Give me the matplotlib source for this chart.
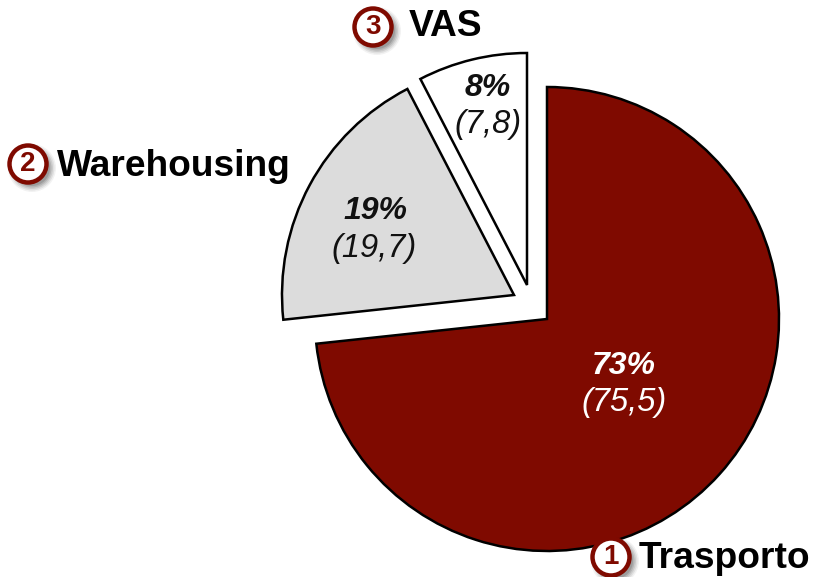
import matplotlib
matplotlib.use('Agg')
import matplotlib.pyplot as plt
from matplotlib.patches import Circle

plt.rcParams['font.family'] = ['Liberation Sans', 'DejaVu Sans']

# shares
categories = ['Trasporto', 'Warehousing', 'VAS']
shares = [73.3, 19.1, 7.6]
pct_labels = ['73%', '19%', '8%']
value_labels = ['(75,5)', '(19,7)', '(7,8)']
numbers = ['1', '2', '3']
colors = ['#7F0A00', '#DCDCDC', '#FFFFFF']
text_colors = ['white', '#111111', '#111111']

W, H = 813, 577
RED = '#7F0A00'


def py(y):
    # picture y (from the top) to axes y
    return H - y


fig = plt.figure(figsize=(W / 100, H / 100), dpi=100)
ax = fig.add_axes([0, 0, 1, 1])

wedges, _ = ax.pie(shares, colors=colors, startangle=90, counterclock=False,
                   radius=232, center=(547, py(319)),
                   wedgeprops={'edgecolor': 'black', 'linewidth': 1.8, 'joinstyle': 'miter'})
ax.set_xlim(0, W)
ax.set_ylim(0, H)
ax.set_aspect('equal')
ax.axis('off')

# each slice is pulled out on its own
centers = [(547, 319), (514, 295), (527, 285)]
for w, c in zip(wedges, centers):
    w.set_center((c[0], py(c[1])))

pct_pos = [(624, 366), (375, 211), (488, 88)]
val_pos = [(624, 403), (374, 248), (488, 124)]
for i in range(3):
    ax.text(pct_pos[i][0], py(pct_pos[i][1]), pct_labels[i], color=text_colors[i],
            fontsize=23, fontweight='bold', fontstyle='italic', ha='center', va='center')
    ax.text(val_pos[i][0], py(val_pos[i][1]), value_labels[i], color=text_colors[i],
            fontsize=23.5, fontstyle='italic', ha='center', va='center')

badge_pos = [(611, 557), (28, 164), (373, 27)]
label_pos = [(639, 558), (57, 167), (409, 27)]
for i in range(3):
    x, y = badge_pos[i]
    # soft shadow
    for r, a in [(24, 0.05), (22.5, 0.07), (21, 0.09), (19.5, 0.11), (18, 0.13)]:
        ax.add_patch(Circle((x + 4, py(y + 4)), r, facecolor='black', edgecolor='none', alpha=a, zorder=4))
    ax.add_patch(Circle((x, py(y)), 18.5, facecolor='white', edgecolor=RED, linewidth=3.2, zorder=5))
    ax.text(x, py(y), numbers[i], color=RED, fontsize=20, fontweight='bold',
            ha='center', va='center', zorder=6)
    ax.text(label_pos[i][0], py(label_pos[i][1]), categories[i], color='black', fontsize=26.7,
            fontweight='bold', ha='left', va='center', zorder=6)

fig.savefig('out.png', dpi=100)
